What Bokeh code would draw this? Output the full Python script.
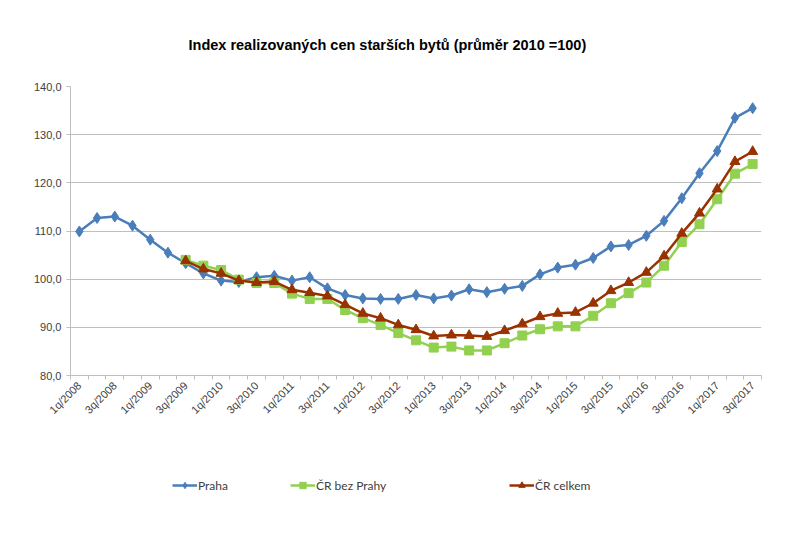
import math
from bokeh.plotting import figure
from bokeh.layouts import column
from bokeh.models import Range1d, FixedTicker, Legend, LegendItem, ColumnDataSource
from bokeh.embed import file_html
from bokeh.resources import INLINE

quarters = [f"{q}q/{y}" for y in range(2008, 2018) for q in (1, 2, 3, 4)][:39]

praha = [109.9, 112.7, 113.0, 111.1, 108.2, 105.5, 103.3, 101.2, 99.7, 99.4,
         100.4, 100.7, 99.7, 100.4, 98.1, 96.7, 96.0, 95.9, 95.9, 96.7,
         96.0, 96.6, 97.9, 97.3, 98.0, 98.6, 101.0, 102.4, 103.0, 104.4,
         106.8, 107.1, 109.0, 112.1, 116.8, 122.0, 126.6, 133.5, 135.5]

cr_bez_prahy = [None, None, None, None, None, None, 104.0, 102.8, 101.9, 99.9,
                99.2, 99.2, 97.0, 95.9, 95.9, 93.6, 91.9, 90.5, 88.8, 87.3,
                85.8, 86.0, 85.2, 85.2, 86.7, 88.3, 89.6, 90.2, 90.2, 92.4,
                95.0, 97.1, 99.3, 102.8, 107.7, 111.4, 116.6, 121.9, 123.9]

cr_celkem = [None, None, None, None, None, None, 103.8, 102.1, 101.2, 99.7,
             99.3, 99.5, 97.8, 97.2, 96.5, 94.7, 92.9, 91.9, 90.5, 89.5,
             88.2, 88.4, 88.3, 88.1, 89.3, 90.7, 92.2, 92.9, 93.1, 95.0,
             97.6, 99.3, 101.4, 104.8, 109.5, 113.7, 118.7, 124.4, 126.5]

y_ticks = [80, 90, 100, 110, 120, 130, 140]
y_tick_labels = ["80,0", "90,0", "100,0", "110,0", "120,0", "130,0", "140,0"]

series_names = ["Praha", "ČR bez Prahy", "ČR celkem"]
colors = ["#4a7ebb", "#92d050", "#983200"]

n = len(quarters)
xs = [i + 0.5 for i in range(n)]

W = 792
p = figure(width=W, height=460, output_backend="svg", toolbar_location=None,
           x_range=Range1d(0, n), y_range=Range1d(80, 140),
           min_border_left=70, min_border_right=31, min_border_top=86, min_border_bottom=85)
p.outline_line_color = None
p.background_fill_color = "white"
p.border_fill_color = "white"

p.title.text = "Index realizovaných cen starších bytů (průměr 2010 =100)"
p.title.text_font = "Liberation Sans"
p.title.text_font_size = "14.5px"
p.title.text_font_style = "bold"
p.title.text_color = "#000000"
p.title.align = "left"
p.title.offset = 118
p.title.standoff = 67

# Y axis
p.yaxis.ticker = FixedTicker(ticks=y_ticks)
p.yaxis.major_label_overrides = {t: l for t, l in zip(y_ticks, y_tick_labels)}
p.yaxis.axis_line_color = "#bfbfbf"
p.yaxis.major_tick_line_color = "#bfbfbf"
p.yaxis.major_tick_out = 4
p.yaxis.major_tick_in = 0
p.yaxis.minor_tick_line_color = None
p.yaxis.major_label_standoff = 5
p.yaxis.major_label_text_font = "Liberation Sans"
p.yaxis.major_label_text_font_size = "11px"
p.yaxis.major_label_text_color = "#404040"

# X axis
label_pos = [i + 0.5 for i in range(0, n, 2)]
p.xaxis.ticker = FixedTicker(ticks=label_pos, minor_ticks=list(range(0, n + 1)))
p.xaxis.major_label_overrides = {i + 0.5: quarters[i] for i in range(0, n, 2)}
p.xaxis.major_label_orientation = math.pi / 4
p.xaxis.axis_line_color = "#bfbfbf"
p.xaxis.major_tick_line_color = None
p.xaxis.minor_tick_line_color = "#bfbfbf"
p.xaxis.minor_tick_out = 4
p.xaxis.minor_tick_in = 0
p.xaxis.major_label_standoff = 2
p.xaxis.major_label_text_font = "Liberation Sans"
p.xaxis.major_label_text_font_size = "11px"
p.xaxis.major_label_text_color = "#404040"

p.xgrid.grid_line_color = None
p.ygrid.ticker = FixedTicker(ticks=y_ticks)
p.ygrid.grid_line_color = "#bfbfbf"
p.ygrid.grid_line_width = 1

# legend strip (its ranges exclude all data, so only the legend shows)
lg = figure(width=W, height=65, output_backend="svg", toolbar_location=None,
            x_range=Range1d(-2, -1), y_range=Range1d(0, 1),
            min_border_left=0, min_border_right=0, min_border_top=0, min_border_bottom=0)
lg.outline_line_color = None
lg.axis.visible = False
lg.grid.visible = False
lg.border_fill_color = "white"
lg.background_fill_color = "white"

data = [praha, cr_bez_prahy, cr_celkem]
markers = ["diamond", "square", "triangle"]
sizes = [11, 9, 10]
legend_x = [102, 220, 439]

for vals, name, col, mk, sz, lx in zip(data, series_names, colors, markers, sizes, legend_x):
    px = [x for x, v in zip(xs, vals) if v is not None]
    py = [v for v in vals if v is not None]
    src = ColumnDataSource(dict(x=px, y=py))
    p.line("x", "y", source=src, line_color=col, line_width=2.5)
    p.scatter("x", "y", source=src, marker=mk, size=sz, fill_color=col, line_color=col)
    d1 = lg.line("x", "y", source=src, line_color=col, line_width=2.5)
    d2 = lg.scatter("x", "y", source=src, marker=mk, size=sz - 2, fill_color=col, line_color=col)
    leg = Legend(items=[LegendItem(label=name, renderers=[d1, d2])],
                 location=(lx, 32), padding=0, margin=0, spacing=0,
                 glyph_width=25, glyph_height=16, label_height=16, label_standoff=1,
                 border_line_color=None, background_fill_alpha=0,
                 label_text_font="Lato", label_text_font_size="12px",
                 label_text_color="#404040")
    lg.add_layout(leg, "center")

open("out.html", "w").write(file_html(column(p, lg, spacing=0), INLINE))
